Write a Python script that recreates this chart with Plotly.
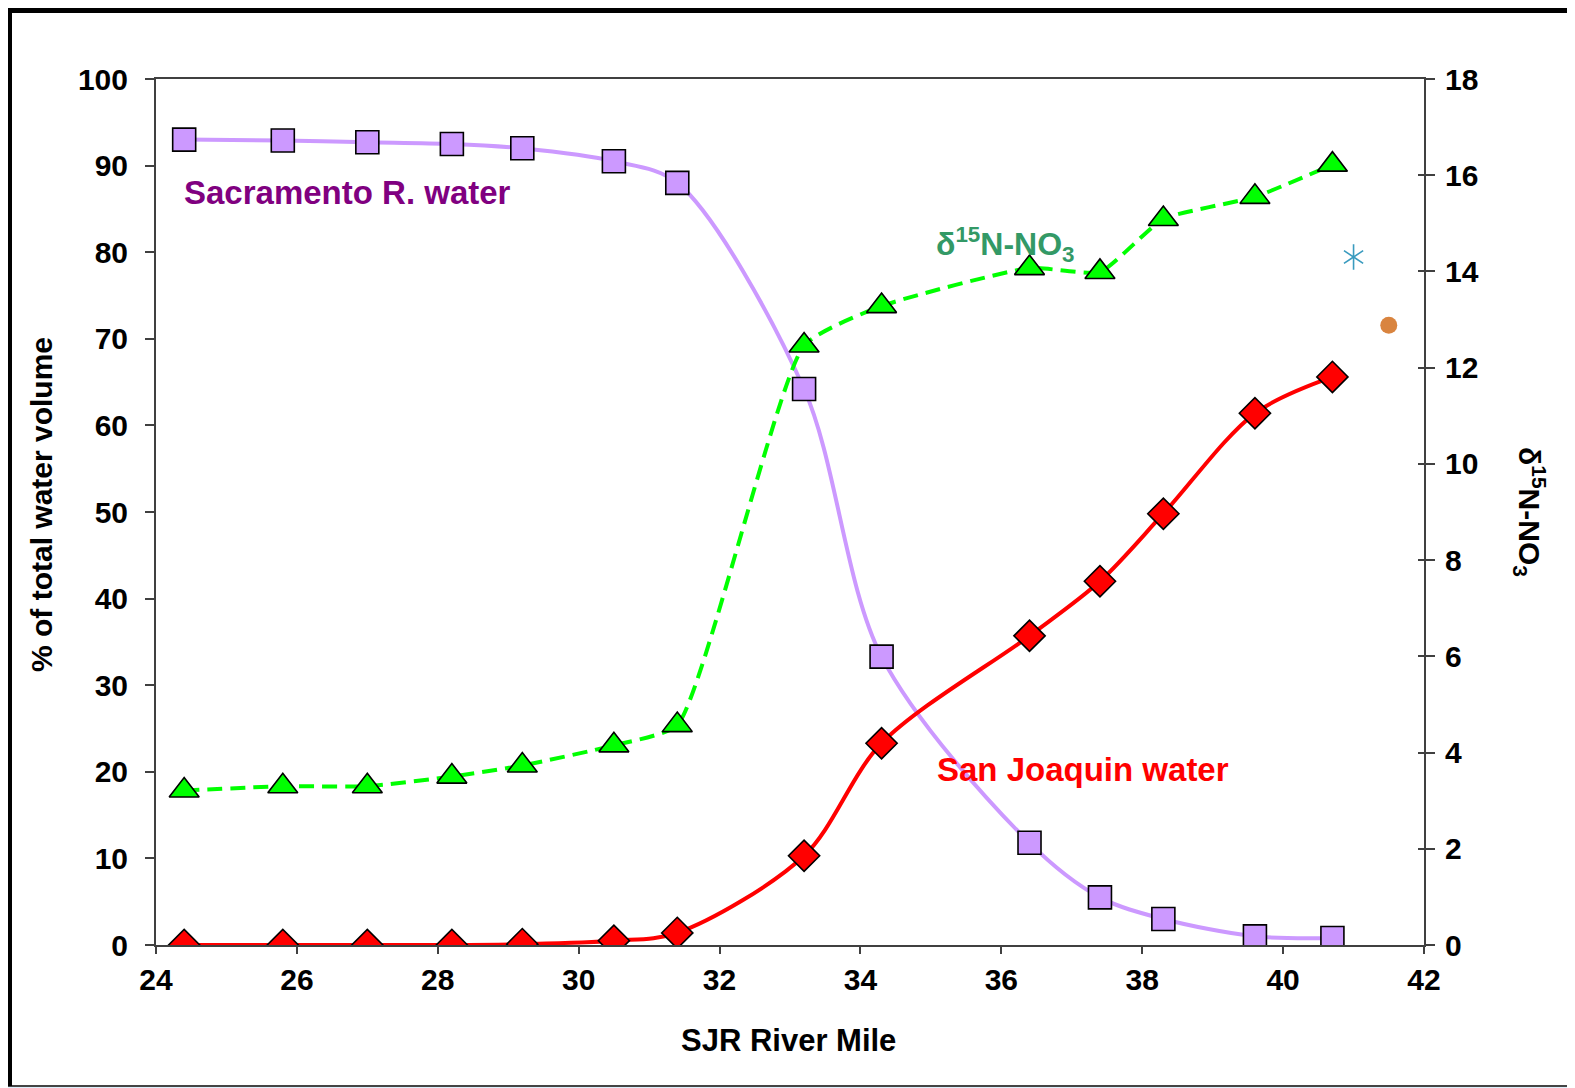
import plotly.graph_objects as go

river_mile = [24.4, 25.8, 27.0, 28.2, 29.2, 30.5, 31.4, 33.2, 34.3, 36.4, 37.4, 38.3, 39.6, 40.7]
sacramento_pct = [93.0, 92.9, 92.7, 92.5, 92.0, 90.5, 88.0, 64.2, 33.3, 11.8, 5.5, 3.0, 1.0, 0.8]
san_joaquin_pct = [0.0, 0.0, 0.0, 0.0, 0.1, 0.5, 1.4, 10.3, 23.3, 35.7, 42.0, 49.8, 61.4, 65.6]
d15n_no3 = [3.21, 3.30, 3.30, 3.50, 3.73, 4.15, 4.57, 12.46, 13.28, 14.07, 13.99, 15.09, 15.55, 16.22]
star_x, star_y = [41.0], [14.3]
dot_x, dot_y = [41.5], [12.88]

OFF = 8  # page body margin
W, H = 1575 - OFF, 1088 - OFF
ML, MR, MT, MB = 156 - OFF, 151, 79 - OFF, 143
PW, PH = W - ML - MR, H - MT - MB

def px(x):
    return (x - OFF - ML) / PW

def py(y):
    return (H - MB - (y - OFF)) / PH

FONT = "Liberation Sans, Arial, sans-serif"

fig = go.Figure()
fig.add_trace(go.Scatter(
    x=river_mile, y=sacramento_pct, mode="lines+markers",
    line=dict(color="#cc99ff", width=4, shape="spline", smoothing=0.9),
    marker=dict(symbol="square", size=23, color="#cc99ff", line=dict(color="black", width=1.6)),
    yaxis="y", showlegend=False))
fig.add_trace(go.Scatter(
    x=river_mile, y=san_joaquin_pct, mode="lines+markers",
    line=dict(color="#ff0000", width=4, shape="spline", smoothing=0.9),
    marker=dict(symbol="diamond", size=24, color="#ff0000", line=dict(color="black", width=1.6)),
    yaxis="y", showlegend=False))
fig.add_trace(go.Scatter(
    x=river_mile, y=d15n_no3, mode="lines+markers",
    line=dict(color="#00ff00", width=4, shape="spline", smoothing=0.5, dash="15px,8px"),
    marker=dict(symbol="triangle-up", size=26, color="#00ff00", line=dict(color="black", width=1.6)),
    yaxis="y2", showlegend=False))
for sym in ["y-up-open", "y-down-open"]:
    fig.add_trace(go.Scatter(
        x=star_x, y=star_y, mode="markers",
        marker=dict(symbol=sym, size=16, color="#3a9bbf", line=dict(color="#3a9bbf", width=1.6)),
        yaxis="y2", showlegend=False, hoverinfo="skip"))
fig.add_trace(go.Scatter(
    x=dot_x, y=dot_y, mode="markers",
    marker=dict(symbol="circle", size=17, color="#d9843f"),
    yaxis="y2", showlegend=False))
# carrier for the inner right-axis ticks
fig.add_trace(go.Scatter(
    x=river_mile, y=d15n_no3, mode="markers", marker=dict(opacity=0),
    yaxis="y3", showlegend=False, hoverinfo="skip"))

tickfont = dict(family=FONT, size=30, color="black", weight="bold")

fig.update_layout(
    width=W, height=H,
    margin=dict(l=ML, r=MR, t=MT, b=MB),
    paper_bgcolor="#ddeffb",
    plot_bgcolor="rgba(0,0,0,0)",
    font=dict(family=FONT),
    xaxis=dict(range=[24, 42], dtick=2, tick0=24, showgrid=False, zeroline=False,
               showline=True, linecolor="#404040", linewidth=2, mirror=True,
               ticks="outside", ticklen=7, tickcolor="#404040", tickwidth=1.5,
               tickfont=tickfont, ticklabelstandoff=0),
    yaxis=dict(range=[0, 100], dtick=10, showgrid=False, zeroline=False,
               showline=True, linecolor="#404040", linewidth=2,
               ticks="outside", ticklen=9, tickcolor="#404040", tickwidth=1.5,
               tickfont=tickfont, ticklabelstandoff=11),
    yaxis2=dict(range=[0, 18], dtick=2, overlaying="y", side="right", showgrid=False,
                zeroline=False, showline=True, linecolor="#404040", linewidth=2,
                ticks="outside", ticklen=9, tickcolor="#404040", tickwidth=1.5,
                tickfont=tickfont, ticklabelstandoff=4),
    yaxis3=dict(range=[0, 18], dtick=2, overlaying="y", side="right", showgrid=False,
                zeroline=False, showline=False, ticks="inside", ticklen=6,
                tickcolor="#404040", tickwidth=1.5, showticklabels=False),
    shapes=[
        dict(type="rect", xref="paper", yref="paper", layer="below",
             x0=px(6), x1=px(1600), y0=py(1086), y1=py(7),
             fillcolor="white", line=dict(color="#444444", width=2)),
        dict(type="rect", xref="paper", yref="paper", layer="below",
             x0=px(6), x1=px(12), y0=py(1086), y1=py(7),
             fillcolor="black", line=dict(width=0)),
        dict(type="rect", xref="paper", yref="paper", layer="below",
             x0=px(6), x1=px(1600), y0=py(13), y1=py(7),
             fillcolor="black", line=dict(width=0)),
    ],
    annotations=[
        dict(text="<b>Sacramento R. water</b>", xref="paper", yref="paper",
             x=px(182), y=py(192), xanchor="left", yanchor="middle", showarrow=False,
             font=dict(family=FONT, size=33, color="#800080")),
        dict(text="<b>δ<sup>15</sup>N-NO<sub>3</sub></b>", xref="paper", yref="paper",
             x=px(934), y=py(245), xanchor="left", yanchor="middle", showarrow=False,
             font=dict(family=FONT, size=32, color="#339966")),
        dict(text="<b>San Joaquin water</b>", xref="paper", yref="paper",
             x=px(935), y=py(769), xanchor="left", yanchor="middle", showarrow=False,
             font=dict(family=FONT, size=33, color="#ff0000")),
        dict(text="<b>% of total water volume</b>", xref="paper", yref="paper",
             x=px(42), y=py(505), xanchor="center", yanchor="middle", showarrow=False,
             textangle=-90, font=dict(family=FONT, size=30, color="black")),
        dict(text="<b>δ<sup>15</sup>N-NO<sub>3</sub></b>", xref="paper", yref="paper",
             x=px(1530), y=py(512), xanchor="center", yanchor="middle", showarrow=False,
             textangle=90, font=dict(family=FONT, size=30, color="black")),
        dict(text="<b>SJR River Mile</b>", xref="paper", yref="paper",
             x=px(788), y=py(1040), xanchor="center", yanchor="middle", showarrow=False,
             font=dict(family=FONT, size=31, color="black")),
    ],
)

fig.write_html("out.html")
